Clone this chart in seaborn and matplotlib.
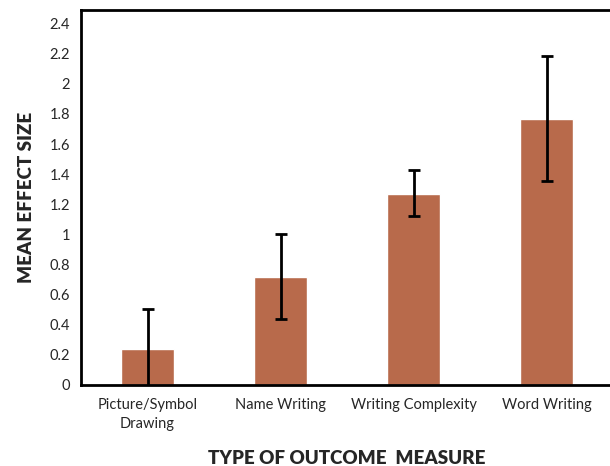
import seaborn as sns
import matplotlib.pyplot as plt
import pandas as pd

# Data
categories = ["Picture/Symbol\nDrawing", "Name Writing", "Writing Complexity", "Word Writing"]
effect_size = [0.24, 0.72, 1.27, 1.765]
err_low = [-0.02, 0.44, 1.12, 1.355]
err_high = [0.505, 1.005, 1.425, 2.185]
yticks = [0, 0.2, 0.4, 0.6, 0.8, 1, 1.2, 1.4, 1.6, 1.8, 2, 2.2, 2.4]
ytick_labels = ["0", "0.2", "0.4", "0.6", "0.8", "1", "1.2", "1.4", "1.6", "1.8", "2", "2.2", "2.4"]

df = pd.DataFrame({"measure": categories, "effect": effect_size})

sns.set_style("white")
plt.rcParams['font.family'] = ['Lato', 'DejaVu Sans']

fig = plt.figure(figsize=(6.1, 4.66), dpi=100)
ax = fig.add_axes([81/610, 81/466, 532/610, 375/466])

sns.barplot(data=df, x="measure", y="effect", color="#B86A4B", saturation=1,
            width=0.4, ax=ax)

# Error bars
yerr = [[v - lo for v, lo in zip(effect_size, err_low)],
        [hi - v for v, hi in zip(effect_size, err_high)]]
ax.errorbar(range(len(categories)), effect_size, yerr=yerr, fmt="none",
            ecolor="black", elinewidth=2, capsize=4, capthick=2, zorder=5)

ax.set_xlim(-0.5, 3.5)
ax.set_ylim(0, 2.49)
ax.set_yticks(yticks)
ax.set_yticklabels(ytick_labels, fontsize=10.5)
ax.tick_params(axis="y", direction="out", length=4, width=1.5, color="black", pad=4)
ax.tick_params(axis="x", which="major", length=0, pad=9)
for lbl in ax.get_xticklabels():
    lbl.set_fontsize(10.5)
    lbl.set_linespacing(1.5)
ax.set_xticks([0.5, 1.5, 2.5], minor=True)
ax.tick_params(axis="x", which="minor", direction="out", length=4, width=1.5, color="black")

for s in ["left", "top", "bottom"]:
    ax.spines[s].set_visible(True)
    ax.spines[s].set_color("black")
    ax.spines[s].set_linewidth(2)
ax.spines["right"].set_visible(False)

ax.set_xlabel("TYPE OF OUTCOME  MEASURE", fontsize=13.5, fontweight="heavy", labelpad=14)
ax.set_ylabel("MEAN EFFECT SIZE", fontsize=13.5, fontweight="heavy", labelpad=10)

plt.savefig("out.png", dpi=100)
